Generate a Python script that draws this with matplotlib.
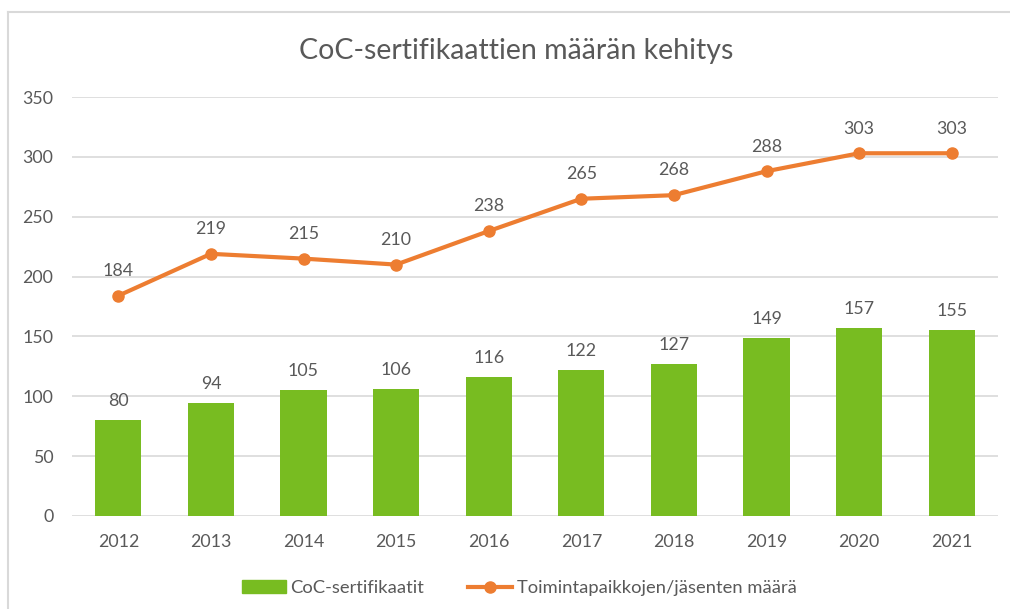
import matplotlib
matplotlib.use("Agg")
import matplotlib.pyplot as plt
from matplotlib.lines import Line2D
from matplotlib.patches import Patch

years = ["2012", "2013", "2014", "2015", "2016", "2017", "2018", "2019", "2020", "2021"]
certificates = [80, 94, 105, 106, 116, 122, 127, 149, 157, 155]
locations = [184, 219, 215, 210, 238, 265, 268, 288, 303, 303]
title = "CoC-sertifikaattien määrän kehitys"
bar_label = "CoC-sertifikaatit"
line_label = "Toimintapaikkojen/jäsenten määrä"

plt.rcParams['font.family'] = ['Lato', 'DejaVu Sans']
GREEN = "#78BC21"
ORANGE = "#ED7D31"
GRAY = "#595959"

fig = plt.figure(figsize=(10.10, 6.09), dpi=100)
ax = fig.add_axes([72/1010, 1-516/609, (998-72)/1010, (516-97)/609])

x = list(range(len(years)))
ax.bar(x, certificates, width=0.5, color=GREEN, zorder=2)
ax.plot(x, locations, color=ORANGE, lw=3, marker='o', markersize=8, zorder=3)

for xi, v in zip(x, certificates):
    ax.annotate(str(v), (xi, v), xytext=(0, 8), textcoords='offset points',
                ha='center', va='bottom', fontsize=12.8, color=GRAY)
for xi, v in zip(x, locations):
    ax.annotate(str(v), (xi, v), xytext=(0, 12), textcoords='offset points',
                ha='center', va='bottom', fontsize=12.8, color=GRAY)

ax.set_xlim(-0.5, len(years) - 0.5)
ax.set_ylim(0, 350)
ax.set_yticks(range(0, 351, 50))
ax.set_xticks(x)
ax.set_xticklabels(years)
ax.tick_params(length=0, labelsize=12.8, labelcolor=GRAY)
ax.tick_params(axis='x', pad=13)
ax.tick_params(axis='y', pad=13.5)
ax.grid(axis='y', color='#D9D9D9', lw=1.2, zorder=0)
ax.set_axisbelow(True)
for s in ax.spines.values():
    s.set_visible(False)

fig.text(516/1010, 1-51/609, title, ha='center', va='center', fontsize=20.5, color=GRAY)

handles = [Patch(color=GREEN), Line2D([0], [0], color=ORANGE, lw=3, marker='o', markersize=8)]
fig.legend(handles, [bar_label, line_label], loc='center', bbox_to_anchor=(519/1010, 1-588/609),
           ncol=2, frameon=False, fontsize=13.2, labelcolor=GRAY, handlelength=2.4,
           handletextpad=0.25, columnspacing=2.4)

# light chart border on left and top
fig.add_artist(Line2D([8/1010, 8/1010], [0, 1-12/609], color='#D9D9D9', lw=1.5, transform=fig.transFigure))
fig.add_artist(Line2D([8/1010, 1], [1-12/609, 1-12/609], color='#D9D9D9', lw=1.5, transform=fig.transFigure))

fig.savefig("out.png", dpi=100)
